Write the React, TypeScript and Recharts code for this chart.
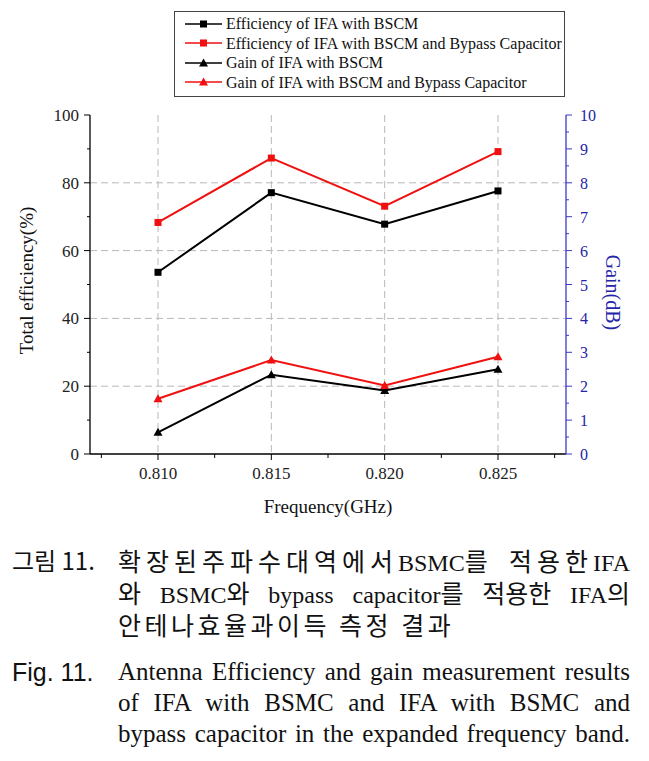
import { CartesianGrid, Label, Legend, Line, LineChart, XAxis, YAxis } from 'recharts';

const frequency = [0.81, 0.815, 0.82, 0.825];
const efficiencyBscm = [53.6, 77.1, 67.8, 77.6];
const efficiencyBypass = [68.3, 87.3, 73.1, 89.2];
const gainBscm = [0.64, 2.34, 1.87, 2.5];
const gainBypass = [1.63, 2.77, 2.02, 2.87];

const freqMajorTicks = [0.81, 0.815, 0.82, 0.825];
const freqMinorTicks = [0.8075, 0.8125, 0.8175, 0.8225, 0.8275];
const effMajorTicks = [0, 20, 40, 60, 80, 100];
const effMinorTicks = [10, 30, 50, 70, 90];
const gainMajorTicks = [0, 1, 2, 3, 4, 5, 6, 7, 8, 9, 10];
const gainMinorTicks = [0.5, 1.5, 2.5, 3.5, 4.5, 5.5, 6.5, 7.5, 8.5, 9.5];
const effGridValues = [20, 40, 60, 80];

const chartData = frequency.map((f, i) => ({
  freq: f,
  effBscm: efficiencyBscm[i],
  effBypass: efficiencyBypass[i],
  gainBscm: gainBscm[i],
  gainBypass: gainBypass[i],
}));

const SERIF = "'Liberation Serif', 'Times New Roman', serif";
const BLUE_AXIS = '#3a3ac8';
const BLUE_TEXT = '#2525a8';

const seriesStyle: Record<string, { color: string; shape: 'square' | 'triangle' }> = {
  effBscm: { color: '#000000', shape: 'square' },
  effBypass: { color: '#f01010', shape: 'square' },
  gainBscm: { color: '#000000', shape: 'triangle' },
  gainBypass: { color: '#f01010', shape: 'triangle' },
};

const isMajor = (list: number[], v: number) => list.some((t) => Math.abs(t - v) < 1e-9);
const sorted = (a: number[], b: number[]) => [...a, ...b].sort((x, y) => x - y);

function Marker({ cx, cy, color, shape }: { cx: number; cy: number; color: string; shape: string }) {
  if (shape === 'square') {
    return <rect x={cx - 3.5} y={cy - 3.5} width={7} height={7} fill={color} />;
  }
  return <polygon points={`${cx},${cy - 4.5} ${cx + 4.5},${cy + 3.5} ${cx - 4.5},${cy + 3.5}`} fill={color} />;
}

function BottomTick(props: any) {
  const { x, y, payload } = props;
  const major = isMajor(freqMajorTicks, payload.value);
  return (
    <g>
      <line x1={x} x2={x} y1={y} y2={y + (major ? 6 : 4)} stroke="#000" />
      {major && (
        <text x={x} y={y + 25} textAnchor="middle" style={{ fontFamily: SERIF }} fontSize={17} fill="#222">
          {payload.value.toFixed(3)}
        </text>
      )}
    </g>
  );
}

function TopTick(props: any) {
  const { x, y, payload } = props;
  const major = isMajor(freqMajorTicks, payload.value);
  return <line x1={x} x2={x} y1={y} y2={y + (major ? 5 : 3)} stroke="#000" />;
}

function LeftTick(props: any) {
  const { x, y, payload } = props;
  const major = isMajor(effMajorTicks, payload.value);
  return (
    <g>
      <line x1={x} x2={x - (major ? 6 : 3)} y1={y} y2={y} stroke="#000" />
      {major && (
        <text x={x - 11} y={y + 6} textAnchor="end" style={{ fontFamily: SERIF }} fontSize={17} fill="#222">
          {payload.value}
        </text>
      )}
    </g>
  );
}

function RightTick(props: any) {
  const { x, y, payload } = props;
  const major = isMajor(gainMajorTicks, payload.value);
  return (
    <g>
      <line x1={x} x2={x + (major ? 6 : 3)} y1={y} y2={y} stroke={BLUE_AXIS} />
      {major && (
        <text x={x + 14} y={y + 6} textAnchor="start" style={{ fontFamily: SERIF }} fontSize={16} fill={BLUE_TEXT}>
          {payload.value}
        </text>
      )}
    </g>
  );
}

function LegendBox({ payload }: any) {
  return (
    <div
      style={{
        width: 391,
        height: 86,
        boxSizing: 'border-box',
        border: '1px solid #444',
        background: '#fff',
        paddingTop: 2,
        fontFamily: SERIF,
        fontSize: 16,
        color: '#111',
      }}
    >
      {(payload || []).map((entry: any) => {
        const s = seriesStyle[entry.dataKey] || { color: entry.color, shape: 'square' };
        return (
          <div key={entry.value} style={{ height: 19.5, display: 'flex', alignItems: 'center' }}>
            <svg width={51} height={12} style={{ flex: 'none' }}>
              <line x1={10} x2={47} y1={6} y2={6} stroke={s.color} strokeWidth={1.5} />
              <Marker cx={28.5} cy={6} color={s.color} shape={s.shape} />
            </svg>
            <span style={{ whiteSpace: 'nowrap', lineHeight: '19px' }}>{entry.value}</span>
          </div>
        );
      })}
    </div>
  );
}

const dotFor = (key: string) => (p: any) => (
  <Marker key={`${key}-${p.index}`} cx={p.cx} cy={p.cy} color={seriesStyle[key].color} shape={seriesStyle[key].shape} />
);

const captionLine = (top: number, extra: React.CSSProperties = {}): React.CSSProperties => ({
  position: 'absolute',
  left: 118,
  width: 512,
  top,
  height: 32,
  lineHeight: '32px',
  whiteSpace: 'nowrap',
  color: '#111',
  ...extra,
});

const justify: React.CSSProperties = { textAlign: 'justify', textAlignLast: 'justify', whiteSpace: 'normal' };
const koreanLine: React.CSSProperties = { fontFamily: "'Noto Sans CJK KR', sans-serif", fontSize: 25 };
const englishFont: React.CSSProperties = { fontFamily: SERIF, fontSize: 25 };

function K({ children, ls = 0 }: { children: React.ReactNode; ls?: number }) {
  return <span style={{ fontFamily: "'Noto Sans CJK KR', sans-serif", fontSize: 25, letterSpacing: ls }}>{children}</span>;
}
function L({ children }: { children: React.ReactNode }) {
  return <span style={{ fontFamily: SERIF, fontSize: 24 }}>{children}</span>;
}

export default function App() {
  return (
    <div style={{ position: 'absolute', left: 0, top: 0, width: 649, height: 761, background: '#fff', overflow: 'hidden' }}>
      <LineChart width={649} height={530} data={chartData} margin={{ top: 115, right: 23, bottom: 26, left: 30 }}>
        <CartesianGrid
          xAxisId="bottom"
          yAxisId="eff"
          stroke="#b8b8b8"
          strokeDasharray="7 4"
          horizontalValues={effGridValues}
          verticalValues={freqMajorTicks}
        />
        <XAxis
          xAxisId="bottom"
          dataKey="freq"
          type="number"
          domain={[0.807, 0.828]}
          ticks={sorted(freqMajorTicks, freqMinorTicks)}
          interval={0}
          height={50}
          tickSize={0}
          tickMargin={0}
          tickLine={false}
          axisLine={{ stroke: '#000', strokeWidth: 1.3 }}
          tick={(p: any) => <BottomTick {...p} />}
        >
          <Label
            content={({ viewBox }: any) => (
              <text x={viewBox.x + viewBox.width / 2} y={viewBox.y + 59} textAnchor="middle" fontFamily={SERIF} fontSize={19} fill="#111">
                Frequency(GHz)
              </text>
            )}
          />
        </XAxis>
        <XAxis
          xAxisId="top"
          orientation="top"
          dataKey="freq"
          type="number"
          domain={[0.807, 0.828]}
          ticks={sorted(freqMajorTicks, freqMinorTicks)}
          interval={0}
          height={0}
          tickSize={0}
          tickMargin={0}
          tickLine={false}
          axisLine={{ stroke: '#000', strokeWidth: 1.3 }}
          tick={(p: any) => <TopTick {...p} />}
        />
        <YAxis
          yAxisId="eff"
          orientation="left"
          width={60}
          domain={[0, 100]}
          ticks={sorted(effMajorTicks, effMinorTicks)}
          interval={0}
          tickSize={0}
          tickMargin={0}
          tickLine={false}
          axisLine={{ stroke: '#000', strokeWidth: 1.3 }}
          tick={(p: any) => <LeftTick {...p} />}
        >
          <Label
            content={({ viewBox }: any) => {
              const cx = viewBox.x - 3;
              const cy = viewBox.y + viewBox.height / 2 - 4;
              return (
                <text x={cx} y={cy} transform={`rotate(-90 ${cx} ${cy})`} dy={6} textAnchor="middle" fontFamily={SERIF} fontSize={19} fill="#111">
                  Total efficiency(%)
                </text>
              );
            }}
          />
        </YAxis>
        <YAxis
          yAxisId="gain"
          orientation="right"
          width={60}
          domain={[0, 10]}
          ticks={sorted(gainMajorTicks, gainMinorTicks)}
          interval={0}
          tickSize={0}
          tickMargin={0}
          tickLine={false}
          axisLine={{ stroke: BLUE_AXIS, strokeWidth: 1.3 }}
          tick={(p: any) => <RightTick {...p} />}
        >
          <Label
            content={({ viewBox }: any) => {
              const cx = viewBox.x + 46;
              const cy = viewBox.y + viewBox.height / 2 + 8;
              return (
                <text x={cx} y={cy} transform={`rotate(90 ${cx} ${cy})`} dy={6} textAnchor="middle" fontFamily={SERIF} fontSize={20} fill={BLUE_TEXT}>
                  Gain(dB)
                </text>
              );
            }}
          />
        </YAxis>
        <Legend
          layout="vertical"
          align="center"
          verticalAlign="middle"
          wrapperStyle={{ position: 'absolute', left: 174, top: 11, width: 391, height: 86, margin: 0 }}
          content={(p: any) => <LegendBox {...p} />}
        />
        <Line
          xAxisId="bottom"
          yAxisId="eff"
          dataKey="effBscm"
          name="Efficiency of IFA with BSCM"
          type="linear"
          stroke={seriesStyle.effBscm.color}
          strokeWidth={2}
          dot={dotFor('effBscm')}
          activeDot={false}
          isAnimationActive={false}
        />
        <Line
          xAxisId="bottom"
          yAxisId="eff"
          dataKey="effBypass"
          name="Efficiency of IFA with BSCM and Bypass Capacitor"
          type="linear"
          stroke={seriesStyle.effBypass.color}
          strokeWidth={2}
          dot={dotFor('effBypass')}
          activeDot={false}
          isAnimationActive={false}
        />
        <Line
          xAxisId="bottom"
          yAxisId="gain"
          dataKey="gainBscm"
          name="Gain of IFA with BSCM"
          type="linear"
          stroke={seriesStyle.gainBscm.color}
          strokeWidth={2}
          dot={dotFor('gainBscm')}
          activeDot={false}
          isAnimationActive={false}
        />
        <Line
          xAxisId="bottom"
          yAxisId="gain"
          dataKey="gainBypass"
          name="Gain of IFA with BSCM and Bypass Capacitor"
          type="linear"
          stroke={seriesStyle.gainBypass.color}
          strokeWidth={2}
          dot={dotFor('gainBypass')}
          activeDot={false}
          isAnimationActive={false}
        />
      </LineChart>

      <div style={{ position: 'absolute', left: 12, top: 544, height: 32, lineHeight: '32px', fontFamily: "'Noto Sans CJK KR', sans-serif", fontSize: 24, color: '#111', whiteSpace: 'nowrap' }}>
        그림 11.
      </div>
      <div style={captionLine(544, { ...koreanLine, ...justify })}>
        <K ls={5}>확장된주파수대역에서</K><L>BSMC</L><K ls={5}>를</K> <K ls={5}>적용한</K><L>IFA</L>
      </div>
      <div style={captionLine(576, { ...koreanLine, ...justify })}>
        <K>와</K> <L>BSMC</L><K>와</K> <L>bypass</L> <L>capacitor</L><K>를</K> <K>적용한</K> <L>IFA</L><K>의</K>
      </div>
      <div style={captionLine(608, { ...koreanLine })}>
        <K ls={3.5}>안테나효율과이득 측정 결과</K>
      </div>

      <div style={{ position: 'absolute', left: 12, top: 656, height: 32, lineHeight: '32px', fontFamily: "'Liberation Sans', Arial, sans-serif", fontSize: 25, color: '#111', whiteSpace: 'nowrap' }}>
        Fig. 11.
      </div>
      <div style={captionLine(656, { ...englishFont, ...justify })}>Antenna Efficiency and gain measurement results</div>
      <div style={captionLine(687, { ...englishFont, ...justify })}>of IFA with BSMC and IFA with BSMC and</div>
      <div style={captionLine(718, { ...englishFont, ...justify })}>bypass capacitor in the expanded frequency band.</div>
    </div>
  );
}
